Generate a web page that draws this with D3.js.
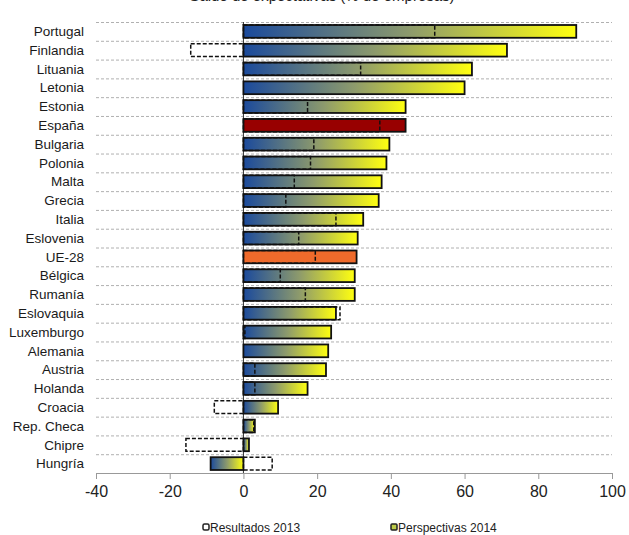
<!DOCTYPE html>
<html>
<head>
<meta charset="utf-8">
<script src="https://cdn.jsdelivr.net/npm/d3@7"></script>
<style>
  body { margin: 0; background: #fff; }
  svg { font-family: "Liberation Sans", Arial, sans-serif; }
</style>
</head>
<body>
<svg></svg>
<script>
// countries, top to bottom
const countries = ["Portugal", "Finlandia", "Lituania", "Letonia", "Estonia", "España",
  "Bulgaria", "Polonia", "Malta", "Grecia", "Italia", "Eslovenia", "UE-28", "Bélgica",
  "Rumanía", "Eslovaquia", "Luxemburgo", "Alemania", "Austria", "Holanda", "Croacia",
  "Rep. Checa", "Chipre", "Hungría"]

// Perspectivas 2014 (bars)
const persp2014 = [90.3, 71.5, 62.0, 60.0, 44.0, 44.0, 39.6, 38.8, 37.5, 36.7, 32.5, 31.0,
  30.7, 30.2, 30.2, 25.1, 23.8, 23.0, 22.4, 17.4, 9.4, 3.1, 1.5, -8.9]

// Resultados 2013 (dashed outlines), null = no data shown
const result2013 = [51.9, -14.3, 31.8, null, 17.4, 37.0, 19.1, 18.2, 13.8, 11.5, 25.1, 15.0,
  19.5, 10.0, 16.8, 26.2, 0.4, null, 3.1, 3.1, -7.9, 2.8, -15.6, 7.8]

const xTicks = [-40, -20, 0, 20, 40, 60, 80, 100]

const width = 629
const height = 535

const rows = countries.map((c, i) => ({ name: c, v14: persp2014[i], v13: result2013[i] }))

const svg = d3.select("svg")
    .attr("width", width)
    .attr("height", height)

const x = d3.scaleLinear()
  .domain([-40, 100])
  .range([96, 612])

const y = d3.scaleBand()
  .domain(countries)
  .range([22, 473])
  .paddingInner(0.32)
  .paddingOuter(0.16)

const defs = svg.append("defs")
const grad = defs.append("linearGradient")
  .attr("id", "bluYel")
  .attr("x1", "0%").attr("x2", "100%")
  .attr("y1", "0%").attr("y2", "0%")
grad.append("stop").attr("offset", "0%").attr("stop-color", "#1b4a9c")
grad.append("stop").attr("offset", "50%").attr("stop-color", "#8d9a6c")
grad.append("stop").attr("offset", "100%").attr("stop-color", "#ffff10")

// title, cut off at the top edge as in the source image
svg.append("text")
  .attr("x", 322)
  .attr("y", 1)
  .attr("text-anchor", "middle")
  .attr("font-size", 15)
  .attr("fill", "#222")
  .text("Saldo de expectativas (% de empresas)")

// dashed row gridlines
const bounds = d3.range(countries.length).map(i => 22 + i * (451 / countries.length))
svg.append("g")
  .selectAll("line")
  .data(bounds)
  .join("line")
  .attr("x1", 96).attr("x2", 612)
  .attr("y1", d => d + 0.5).attr("y2", d => d + 0.5)
  .attr("stroke", "#b0b0b0")
  .attr("stroke-dasharray", "3,2")

// bottom axis
const xAxis = svg.append("g")
  .attr("transform", "translate(0,473)")
  .call(d3.axisBottom(x).tickValues(xTicks).tickFormat(d => String(d)).tickSize(6).tickPadding(7))
xAxis.select(".domain").attr("stroke", "#999")
xAxis.selectAll(".tick line").attr("stroke", "#999")
xAxis.selectAll("text")
  .attr("font-size", 16)
  .attr("fill", "#222")
  .attr("font-family", "Liberation Sans, Arial, sans-serif")

// zero line
svg.append("line")
  .attr("x1", x(0)).attr("x2", x(0))
  .attr("y1", 22).attr("y2", 473)
  .attr("stroke", "#333")

// category labels
svg.append("g")
  .selectAll("text")
  .data(rows)
  .join("text")
  .attr("x", 84)
  .attr("y", d => y(d.name) + y.bandwidth() / 2)
  .attr("dy", "0.35em")
  .attr("text-anchor", "end")
  .attr("font-size", 13.5)
  .attr("fill", "#1a1a1a")
  .text(d => d.name)

// bars 2014
const fillFor = d => d.name === "España" ? "#980000" : d.name === "UE-28" ? "#ef6a2b" : "url(#bluYel)"
svg.append("g")
  .selectAll("rect")
  .data(rows)
  .join("rect")
  .attr("x", d => x(Math.min(0, d.v14)))
  .attr("y", d => y(d.name))
  .attr("width", d => Math.abs(x(d.v14) - x(0)))
  .attr("height", y.bandwidth())
  .attr("fill", fillFor)
  .attr("stroke", "#111")
  .attr("stroke-width", 1.8)

// results 2013 - dashed outlines
svg.append("g")
  .selectAll("rect")
  .data(rows.filter(d => d.v13 !== null))
  .join("rect")
  .attr("x", d => x(Math.min(0, d.v13)))
  .attr("y", d => y(d.name))
  .attr("width", d => Math.abs(x(d.v13) - x(0)))
  .attr("height", y.bandwidth())
  .attr("fill", "none")
  .attr("stroke", "#111")
  .attr("stroke-width", 1.5)
  .attr("stroke-dasharray", "4,2")

// legend
const legend = svg.append("g").attr("font-size", 12).attr("fill", "#222")
legend.append("rect")
  .attr("x", 203).attr("y", 524).attr("width", 6).attr("height", 6).attr("rx", 1.5)
  .attr("fill", "#fff").attr("stroke", "#222").attr("stroke-width", 1.5)
legend.append("text").attr("x", 210).attr("y", 531.5).text("Resultados 2013")
legend.append("rect")
  .attr("x", 391).attr("y", 524).attr("width", 6).attr("height", 6).attr("rx", 1)
  .attr("fill", "#bccb48").attr("stroke", "#222").attr("stroke-width", 1.5)
legend.append("text").attr("x", 398).attr("y", 531.5).text("Perspectivas 2014")
</script>
</body>
</html>
